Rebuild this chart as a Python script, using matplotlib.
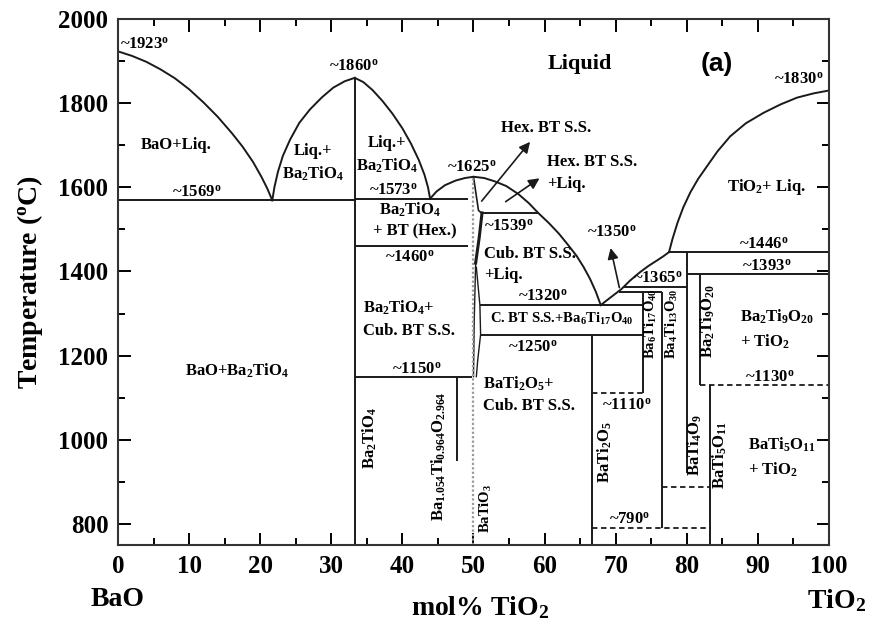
import matplotlib

matplotlib.use("Agg")
import matplotlib.pyplot as plt

# liquidus branches, (mol% TiO2, temperature in C)
bao_liq_x = [0, 2, 4, 6, 8, 10, 12, 14, 16, 17.5, 19, 20.2, 21.0, 21.7]
bao_liq_t = [1923, 1912, 1898, 1880, 1859, 1833, 1802, 1768, 1729, 1697, 1660, 1624, 1597, 1569]

b2t_left_x = [21.7, 22.0, 22.5, 23.2, 24.2, 25.5, 27.0, 28.7, 30.3, 31.9, 33.3]
b2t_left_t = [1569, 1600, 1637, 1675, 1713, 1753, 1785, 1814, 1837, 1852, 1860]

b2t_right_x = [33.3, 34.5, 35.8, 37.2, 38.6, 40.0, 41.2, 42.3, 43.1, 43.6, 43.9]
b2t_right_t = [1860, 1850, 1831, 1805, 1775, 1740, 1704, 1665, 1630, 1600, 1573]

bt_liq_x = [43.9, 44.8, 46.0, 47.5, 48.8, 50.0, 51.5, 53.0, 54.6, 56.3, 57.8, 59.1, 60.6, 62.0,
            63.3, 64.5, 65.5, 66.4, 67.2, 67.9]
bt_liq_t = [1573, 1590, 1605, 1616, 1622, 1625, 1622, 1614, 1603, 1584, 1562, 1539, 1515, 1490,
            1463, 1437, 1410, 1382, 1352, 1320]

ti_low_x = [67.9, 68.8, 69.8, 70.8, 72.0, 73.4, 74.6, 75.8, 76.7, 77.5]
ti_low_t = [1320, 1332, 1345, 1358, 1378, 1398, 1413, 1426, 1436, 1446]

tio2_liq_x = [77.5, 78.0, 78.7, 79.5, 80.5, 81.6, 82.8, 84.3, 86.1, 88.3, 90.8, 93.2, 95.5, 97.8,
              100]
tio2_liq_t = [1446, 1478, 1516, 1552, 1588, 1620, 1649, 1685, 1721, 1752, 1777, 1797, 1813, 1823,
              1830]

# hexagonal / cubic BaTiO3 solid-solution boundaries
hex_bound_x = [50.0, 50.7, 51.1]
hex_bound_t = [1625, 1545, 1539]
cub_left_x = [51.2, 50.8, 50.3]
cub_left_t = [1539, 1480, 1420]
cub_inner_x = [50.3, 50.1, 50.0]
cub_inner_t = [1420, 1280, 1150]
cub_right_x = [50.4, 50.9, 51.0, 50.6, 50.4]
cub_right_t = [1410, 1320, 1250, 1190, 1150]

# isotherms: (temperature, x start, x end)
solid_iso = [
    (1569, 0, 33.3),
    (1573, 33.3, 49.2),
    (1460, 33.3, 49.2),
    (1150, 33.3, 49.8),
    (1539, 51.1, 59.1),
    (1320, 50.9, 73.9),
    (1250, 50.9, 73.9),
    (1352, 70.4, 76.5),
    (1363, 71.1, 80.0),
    (1446, 77.5, 100),
    (1393, 80.0, 100),
]
dashed_iso = [
    (1110, 66.7, 73.9),
    (790, 66.7, 83.3),
    (888, 76.5, 83.3),
    (1130, 81.8, 100),
]

# compound lines: (composition, lower T, upper T)
compounds = [
    (33.3, 750, 1860),
    (47.7, 950, 1150),
    (66.7, 750, 1250),
    (73.9, 1110, 1352),
    (76.5, 790, 1352),
    (80.0, 920, 1446),
    (81.8, 1130, 1393),
    (83.3, 750, 1130),
]

x_ticks = [0, 10, 20, 30, 40, 50, 60, 70, 80, 90, 100]
y_ticks = [800, 1000, 1200, 1400, 1600, 1800, 2000]

DEG = r"$^\mathrm{o}$"

plt.rcParams["font.family"] = "Liberation Serif"
plt.rcParams["font.weight"] = "bold"
plt.rcParams["axes.labelweight"] = "bold"
plt.rcParams["mathtext.fontset"] = "custom"
plt.rcParams["mathtext.rm"] = "Liberation Serif:bold"
plt.rcParams["mathtext.it"] = "Liberation Serif:bold:italic"
plt.rcParams["mathtext.bf"] = "Liberation Serif:bold"

fig = plt.figure(figsize=(8.72, 6.27), dpi=100)
ax = fig.add_axes([0.1353, 0.1308, 0.8154, 0.839])

LC = "#1a1a1a"
LW = 1.4
for xs, ts in [
    (bao_liq_x, bao_liq_t),
    (b2t_left_x, b2t_left_t),
    (b2t_right_x, b2t_right_t),
    (bt_liq_x, bt_liq_t),
    (ti_low_x, ti_low_t),
    (tio2_liq_x, tio2_liq_t),
]:
    ax.plot(xs, ts, color=LC, lw=LW)

ax.plot(hex_bound_x, hex_bound_t, color=LC, lw=1.2)
ax.plot(cub_left_x, cub_left_t, color=LC, lw=2.2)
ax.plot(cub_inner_x, cub_inner_t, color=LC, lw=1.0)
ax.plot(cub_right_x, cub_right_t, color=LC, lw=1.0)
ax.vlines(50.0, 750, 1625, colors="#9a9a9a", lw=1.6, linestyles=(0, (1, 1)))

for t, x0, x1 in solid_iso:
    ax.hlines(t, x0, x1, colors=LC, lw=LW)
for t, x0, x1 in dashed_iso:
    ax.hlines(t, x0, x1, colors=LC, lw=1.3, linestyles=(0, (3, 2)))
for x, t0, t1 in compounds:
    ax.vlines(x, t0, t1, colors=LC, lw=LW)

arrow = dict(arrowstyle="-|>", color=LC, lw=1.2, mutation_scale=16)
ax.annotate("", xy=(58.2, 1713), xytext=(50.9, 1562), arrowprops=arrow)
ax.annotate("", xy=(59.6, 1625), xytext=(54.2, 1562), arrowprops=arrow)
ax.annotate("", xy=(69.2, 1462), xytext=(70.6, 1355), arrowprops=arrow)

small = 12
tiny = 10.5

# temperature notes
temps = [
    (0.3, 1940, "~1923", "left"),
    (33.1, 1887, "~1860", "center"),
    (11.1, 1588, "~1569", "center"),
    (38.7, 1592, "~1573", "center"),
    (49.7, 1646, "~1625", "center"),
    (54.9, 1507, "~1539", "center"),
    (41.1, 1434, "~1460", "center"),
    (59.8, 1340, "~1320", "center"),
    (58.4, 1220, "~1250", "center"),
    (42.0, 1167, "~1150", "center"),
    (71.6, 1082, "~1110", "center"),
    (72.0, 810, "~790", "center"),
    (69.4, 1492, "~1350", "center"),
    (75.9, 1383, "~1365", "center"),
    (90.8, 1463, "~1446", "center"),
    (91.2, 1411, "~1393", "center"),
    (91.7, 1147, "~1130", "center"),
    (95.7, 1855, "~1830", "center"),
]
for x, t, s, ha in temps:
    ax.text(x, t, s + DEG, fontsize=small, ha=ha, va="center")

# phase fields
fields = [
    (8.2, 1701, "BaO+Liq.", "center"),
    (27.4, 1658, "Liq.+\nBa$_2$TiO$_4$", "center"),
    (37.8, 1677, "Liq.+\nBa$_2$TiO$_4$", "center"),
    (34.4, 1287, "Ba$_2$TiO$_4$+\nCub. BT S.S.", "left"),
    (16.7, 1163, "BaO+Ba$_2$TiO$_4$", "center"),
    (51.5, 1416, "Cub. BT S.S.\n+Liq.", "left"),
    (51.3, 1108, "BaTi$_2$O$_5$+\nCub. BT S.S.", "left"),
    (87.5, 1263, "Ba$_2$Ti$_9$O$_{20}$\n+ TiO$_2$", "left"),
    (88.6, 958, "BaTi$_5$O$_{11}$\n+ TiO$_2$", "left"),
    (91.2, 1601, "TiO$_2$+ Liq.", "center"),
    (53.9, 1741, "Hex. BT S.S.", "left"),
    (60.3, 1634, "Hex. BT S.S.\n+Liq.", "left"),
]
for x, t, s, ha in fields:
    ax.text(x, t, s, fontsize=small, ha=ha, va="center", linespacing=1.45)

ax.text(41.1, 1546, "Ba$_2$TiO$_4$", fontsize=small, ha="center", va="center")
ax.text(41.8, 1496, "+ BT (Hex.)", fontsize=small, ha="center", va="center")
ax.text(62.4, 1288, "C. BT S.S.+Ba$_6$Ti$_{17}$O$_{40}$", fontsize=tiny,
        ha="center", va="center")
ax.text(65, 1892, "Liquid", fontsize=16, ha="center", va="center")
ax.text(84.2, 1892, "(a)", fontsize=19, ha="center", va="center",
        family="Liberation Sans", weight="bold")

# rotated compound names
phases = [
    (35.4, 1004, "Ba$_2$TiO$_4$", small),
    (45.1, 962, "Ba$_{1.054}$Ti$_{0.964}$O$_{2.964}$", small),
    (51.8, 838, "BaTiO$_3$", tiny),
    (68.5, 972, "BaTi$_2$O$_5$", small),
    (74.9, 1276, "Ba$_6$Ti$_{17}$O$_{40}$", tiny),
    (77.9, 1276, "Ba$_4$Ti$_{13}$O$_{30}$", tiny),
    (83.0, 1283, "Ba$_2$Ti$_9$O$_{20}$", small),
    (81.1, 988, "BaTi$_4$O$_9$", small),
    (84.7, 964, "BaTi$_5$O$_{11}$", small),
]
for x, t, s, fs in phases:
    ax.text(x, t, s, fontsize=fs, rotation=90, ha="center", va="center")

ax.set_xlim(0, 100)
ax.set_ylim(750, 2000)
ax.set_xticks(x_ticks)
ax.set_yticks(y_ticks)
ax.set_xticks(range(5, 100, 10), minor=True)
ax.set_yticks(range(900, 2000, 200), minor=True)
ax.tick_params(which="both", direction="in", top=True, right=True,
               width=1.4, labelsize=18, pad=7)
ax.tick_params(which="major", length=9)
ax.tick_params(which="minor", length=5)
for sp in ax.spines.values():
    sp.set_linewidth(1.5)
    sp.set_color("#333333")

ax.set_ylabel("Temperature ($^\\mathrm{o}$C)", fontsize=20)
ax.yaxis.set_label_coords(-0.103, 0.5)
xt = ax.get_xaxis_transform()
ax.text(50.9, -0.12, "mol% TiO$_2$", fontsize=20, ha="center", va="center",
        transform=xt)
ax.text(0, -0.103, "BaO", fontsize=20, ha="center", va="center", transform=xt)
ax.text(101.1, -0.106, "TiO$_2$", fontsize=20, ha="center", va="center",
        transform=xt)

fig.savefig("out.png", dpi=100)
